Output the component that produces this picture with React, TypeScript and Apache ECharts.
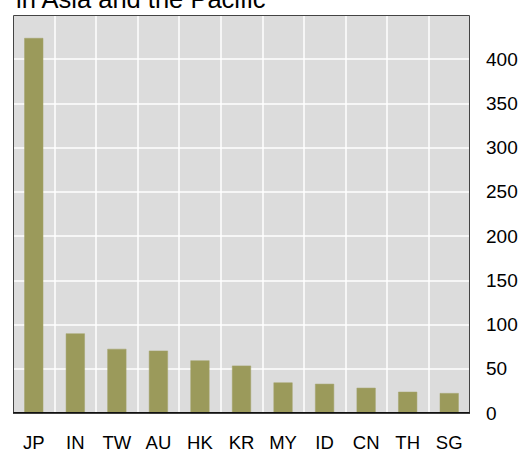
import React, { useEffect, useRef } from "react";
import * as echarts from "echarts";

const titleText = "in Asia and the Pacific";
const categories = ["JP", "IN", "TW", "AU", "HK", "KR", "MY", "ID", "CN", "TH", "SG"];
const values = [424, 90, 72.5, 70.5, 59.5, 53.5, 34.5, 33, 28.5, 24, 22.5];
const yMin = 0;
const yMax = 450;
const yInterval = 50;

const FONT = "'Liberation Sans', Arial, sans-serif";

export default function App() {
  const ref = useRef<HTMLDivElement>(null);
  useEffect(() => {
    if (!ref.current) return;
    const chart = echarts.init(ref.current, undefined, { renderer: "svg" });
    const gl = 13, gr = 53, gt = 15, gb = 40;
    const W = 523, H = 453;
    chart.setOption({
      animation: false,
      backgroundColor: "#ffffff",
      grid: {
        left: gl,
        right: gr,
        top: gt,
        bottom: gb,
        show: true,
        backgroundColor: "#dcdcdc",
        borderWidth: 0,
        containLabel: false,
        outerBoundsMode: "none",
      },
      graphic: [
        {
          type: "text",
          left: 16,
          top: -14,
          style: {
            text: titleText,
            font: `25.5px ${FONT}`,
            fill: "#000",
          },
          z: 100,
        },
        {
          type: "rect",
          shape: { x: gl + 0.5, y: gt + 0.5, width: W - gl - gr - 1, height: H - gt - gb - 1 },
          style: { fill: "none", stroke: "#444", lineWidth: 1 },
          z: 100,
          silent: true,
        },
        {
          type: "line",
          shape: { x1: gl, y1: H - gb, x2: W - gr, y2: H - gb },
          style: { stroke: "#000", lineWidth: 1.5 },
          z: 101,
          silent: true,
        },
      ],
      xAxis: {
        type: "category",
        data: categories,
        boundaryGap: true,
        axisLine: { show: false },
        axisTick: { show: false },
        axisLabel: {
          color: "#000",
          fontSize: 18.5,
          lineHeight: 14,
          fontFamily: FONT,
          margin: 22,
          interval: 0,
        },
        splitLine: { show: true, interval: 0, lineStyle: { color: "#ffffff", width: 1.5 } },
      },
      yAxis: {
        type: "value",
        position: "right",
        min: yMin,
        max: yMax,
        interval: yInterval,
        axisLine: { show: false },
        axisTick: { show: false },
        axisLabel: {
          color: "#000",
          fontSize: 19,
          fontFamily: FONT,
          margin: 16,
          showMaxLabel: false,
        },
        splitLine: { show: true, lineStyle: { color: "#ffffff", width: 1.5 } },
      },
      series: [
        {
          type: "bar",
          data: values,
          barWidth: 19,
          itemStyle: { color: "#9b9a5b", borderColor: "#a3a26a", borderWidth: 0.5 },
        },
      ],
    });
    return () => chart.dispose();
  }, []);
  return <div ref={ref} style={{ width: 523, height: 453, position: "absolute", left: 0, top: 0 }} />;
}
